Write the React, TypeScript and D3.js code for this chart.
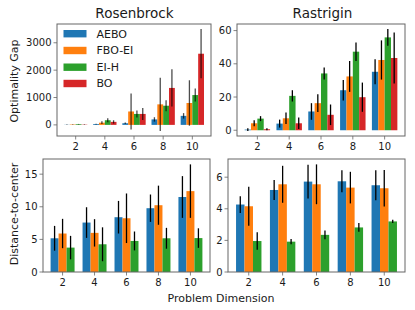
import React from "react";
import * as d3 from "d3";

const dims = ["2", "4", "6", "8", "10"];
const methods = ["AEBO", "FBO-EI", "EI-H", "BO"];
const colors = ["#1f77b4", "#ff7f0e", "#2ca02c", "#d62728"];

// Rosenbrock optimality gap
const rosenGapMean = [
  [5, 30, 60, 200, 330],
  [15, 80, 490, 750, 800],
  [25, 170, 400, 700, 1090],
  [10, 110, 400, 1350, 2600],
];
const rosenGapErr = [
  [5, 15, 25, 80, 100],
  [10, 50, 660, 970, 830],
  [10, 70, 130, 200, 240],
  [10, 60, 220, 680, 900],
];

// Rastrigin optimality gap
const rastGapMean = [
  [0.4, 4.0, 11.3, 24.1, 35.2],
  [4.2, 7.2, 16.3, 32.4, 42.3],
  [7.0, 20.7, 34.2, 47.3, 55.9],
  [0.6, 4.2, 9.3, 19.9, 43.5],
];
const rastGapErr = [
  [0.8, 2.4, 5.0, 6.2, 7.5],
  [1.8, 3.5, 5.3, 9.3, 11.8],
  [1.5, 3.4, 3.6, 5.6, 5.0],
  [0.6, 3.5, 6.2, 8.8, 15.4],
];

// Rosenbrock distance-to-center
const rosenDistMean = [
  [5.17, 7.58, 8.4, 9.78, 11.5],
  [5.9, 6.0, 8.24, 10.24, 12.4],
  [3.74, 4.25, 4.76, 5.17, 5.2],
];
const rosenDistErr = [
  [1.9, 2.35, 2.5, 2.1, 3.2],
  [2.25, 2.1, 3.8, 3.0, 4.1],
  [1.8, 2.6, 1.45, 1.6, 1.5],
];

// Rastrigin distance-to-center
const rastDistMean = [
  [4.27, 5.19, 5.72, 5.74, 5.49],
  [4.16, 5.55, 5.55, 5.34, 5.3],
  [1.96, 1.92, 2.35, 2.82, 3.2],
];
const rastDistErr = [
  [0.53, 0.63, 1.07, 0.7, 0.95],
  [1.23, 1.17, 1.26, 1.0, 1.16],
  [0.55, 0.17, 0.27, 0.28, 0.1],
];

const rosenGapTicks = [0, 1000, 2000, 3000];
const rastGapTicks = [0, 20, 40, 60];
const rosenDistTicks = [0, 5, 10, 15];
const rastDistTicks = [0, 2, 4, 6];

const FONT = "DejaVu Sans, sans-serif";

type PanelProps = {
  left: number;
  top: number;
  right: number;
  bottom: number;
  means: number[][];
  errs: number[][];
  barW: number;
  yTicks: number[];
  errOpacity?: number;
};

function Panel({ left, top, right, bottom, means, errs, barW, yTicks, errOpacity = 1 }: PanelProps) {
  const n = means.length;
  const groupHalf = (n * barW) / 2;
  const xRange = dims.length - 1 + 2 * groupHalf;
  const x = d3
    .scaleLinear()
    .domain([-groupHalf - 0.05 * xRange, dims.length - 1 + groupHalf + 0.05 * xRange])
    .range([left, right]);

  let lo = 0;
  let hi = 0;
  means.forEach((s, j) =>
    s.forEach((m, i) => {
      lo = Math.min(lo, m - errs[j][i]);
      hi = Math.max(hi, m + errs[j][i]);
    })
  );
  const yr = hi - lo;
  let lo2 = lo - 0.05 * yr;
  const hi2 = hi + 0.05 * yr;
  if (lo >= 0 && lo2 < 0) lo2 = 0;
  const y = d3.scaleLinear().domain([lo2, hi2]).range([bottom, top]);

  const bars: React.ReactNode[] = [];
  const errLines: React.ReactNode[] = [];
  means.forEach((s, j) => {
    s.forEach((m, i) => {
      const cx = i + (j - (n - 1) / 2) * barW;
      const x0 = x(cx - barW / 2);
      const x1 = x(cx + barW / 2);
      const y0 = y(Math.max(0, m));
      const y1 = y(Math.min(0, m));
      bars.push(
        <rect
          key={`b${j}-${i}`}
          x={x0}
          y={y0}
          width={x1 - x0}
          height={Math.max(0, y1 - y0)}
          fill={colors[j]}
        />
      );
      errLines.push(
        <line
          key={`e${j}-${i}`}
          x1={x(cx)}
          x2={x(cx)}
          y1={y(m - errs[j][i])}
          y2={y(m + errs[j][i])}
          stroke="#000"
          strokeOpacity={errOpacity}
          strokeWidth={1.3}
        />
      );
    });
  });

  return (
    <g>
      <defs>
        <clipPath id={`clip-${left}-${top}`}>
          <rect x={left} y={top} width={right - left} height={bottom - top} />
        </clipPath>
      </defs>
      <g clipPath={`url(#clip-${left}-${top})`}>
        {bars}
        {errLines}
      </g>
      <rect
        x={left}
        y={top}
        width={right - left}
        height={bottom - top}
        fill="none"
        stroke="#666"
        strokeWidth={1}
      />
      {yTicks.map((t) => (
        <g key={`yt${t}`}>
          <line x1={left - 3.5} x2={left} y1={y(t)} y2={y(t)} stroke="#666" strokeWidth={0.8} />
          <text
            x={left - 5.5}
            y={y(t)}
            dy="0.35em"
            textAnchor="end"
            fontSize={10}
            fontFamily={FONT}
            fill="#1a1a1a"
          >
            {t}
          </text>
        </g>
      ))}
      {dims.map((d, i) => (
        <g key={`xt${d}`}>
          <line x1={x(i)} x2={x(i)} y1={bottom} y2={bottom + 3.5} stroke="#666" strokeWidth={0.8} />
          <text
            x={x(i)}
            y={bottom + 13.5}
            textAnchor="middle"
            fontSize={10}
            fontFamily={FONT}
            fill="#1a1a1a"
          >
            {d}
          </text>
        </g>
      ))}
    </g>
  );
}

export default function App() {
  const legendY = [33.7, 50.5, 67.2, 83.5];
  return (
    <svg
      width={415}
      height={310}
      style={{ position: "absolute", left: 0, top: 0, background: "#fff" }}
    >
      <rect x={0} y={0} width={415} height={310} fill="#fff" />
      <Panel
        left={57}
        top={24}
        right={211}
        bottom={136}
        means={rosenGapMean}
        errs={rosenGapErr}
        barW={0.2}
        yTicks={rosenGapTicks}
        errOpacity={0.7}
      />
      <Panel
        left={237}
        top={24}
        right={405}
        bottom={136}
        means={rastGapMean}
        errs={rastGapErr}
        barW={0.2}
        yTicks={rastGapTicks}
      />
      <Panel
        left={43}
        top={159}
        right={210}
        bottom={272}
        means={rosenDistMean}
        errs={rosenDistErr}
        barW={0.25}
        yTicks={rosenDistTicks}
      />
      <Panel
        left={228}
        top={159}
        right={405}
        bottom={272}
        means={rastDistMean}
        errs={rastDistErr}
        barW={0.25}
        yTicks={rastDistTicks}
      />
      {/* legend */}
      {methods.map((m, j) => (
        <g key={m}>
          <rect x={63.5} y={legendY[j] - 3.7} width={23} height={7.4} fill={colors[j]} />
          <text
            x={96.5}
            y={legendY[j]}
            dy="0.35em"
            fontSize={11}
            fontFamily={FONT}
            fill="#1a1a1a"
          >
            {m}
          </text>
        </g>
      ))}
      {/* titles */}
      <text x={134.5} y={18} textAnchor="middle" fontSize={13.5} fontFamily={FONT} fill="#1a1a1a">
        Rosenbrock
      </text>
      <text x={322.5} y={18} textAnchor="middle" fontSize={13.5} fontFamily={FONT} fill="#1a1a1a">
        Rastrigin
      </text>
      {/* y labels */}
      <text
        transform="translate(18,81) rotate(-90)"
        textAnchor="middle"
        fontSize={11}
        fontFamily={FONT}
        fill="#1a1a1a"
      >
        Optimality Gap
      </text>
      <text
        transform="translate(18,214) rotate(-90)"
        textAnchor="middle"
        fontSize={11}
        fontFamily={FONT}
        fill="#1a1a1a"
      >
        Distance-to-center
      </text>
      <text x={221} y={302} textAnchor="middle" fontSize={11} fontFamily={FONT} fill="#1a1a1a">
        Problem Dimension
      </text>
    </svg>
  );
}
